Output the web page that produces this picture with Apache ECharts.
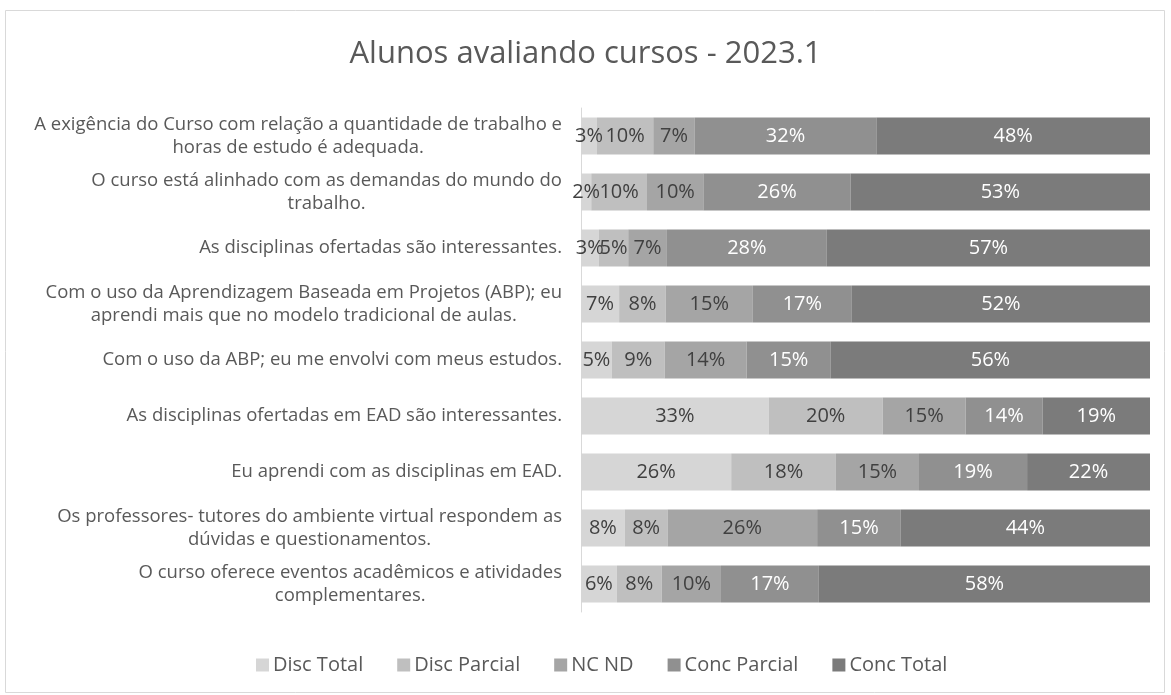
<!DOCTYPE html>
<html>
<head>
<meta charset="utf-8">
<script src="https://cdn.jsdelivr.net/npm/echarts@6/dist/echarts.min.js"></script>
<style>
  html, body { margin: 0; padding: 0; background: #fff; }
  #chart { width: 1171px; height: 695px; }
</style>
</head>
<body>
<div id="chart"></div>
<script>
// perguntas (de cima para baixo)
const categories = [
  "A exigência do Curso com relação a quantidade de trabalho e\nhoras de estudo é adequada.",
  "O curso está alinhado com as demandas do mundo do\ntrabalho.",
  "As disciplinas ofertadas são interessantes.",
  "Com o uso da Aprendizagem Baseada em Projetos (ABP); eu\naprendi mais que no modelo tradicional de aulas.",
  "Com o uso da ABP; eu me envolvi com meus estudos.",
  "As disciplinas ofertadas em EAD são interessantes.",
  "Eu aprendi com as disciplinas em EAD.",
  "Os professores- tutores do ambiente virtual respondem as\ndúvidas e questionamentos.",
  "O curso oferece eventos acadêmicos e atividades\ncomplementares."
];

const seriesNames = ["Disc Total", "Disc Parcial", "NC ND", "Conc Parcial", "Conc Total"];

// percentuais
const discTotal   = [2.8, 1.8, 3.1, 6.7, 5.4, 33.0, 26.4, 7.7, 6.3];
const discParcial = [9.9, 9.8, 5.2, 8.2, 9.3, 20.0, 18.4, 7.5, 7.9];
const ncNd        = [7.3, 9.9, 6.8, 15.3, 14.4, 14.6, 14.6, 26.3, 10.4];
const concParcial = [31.9, 25.9, 28.1, 17.4, 14.8, 13.5, 19.0, 14.7, 17.2];
const concTotal   = [48.1, 52.6, 56.8, 52.4, 56.1, 18.9, 21.6, 43.8, 58.2];

const colors = ["#d6d6d6", "#bfbfbf", "#a5a5a5", "#909090", "#7b7b7b"];
const labelColors = ["#404040", "#404040", "#404040", "#ffffff", "#ffffff"];
const FONT = "'Open Sans', 'Noto Sans', sans-serif";

const chart = echarts.init(document.getElementById("chart"));

const allValues = [discTotal, discParcial, ncNd, concParcial, concTotal];
const series = allValues.map(function (vals, i) {
  return {
    name: seriesNames[i],
    type: "bar",
    stack: "total",
    barCategoryGap: "34%",
    data: vals,
    itemStyle: { color: colors[i] },
    label: {
      show: true,
      position: "inside",
      color: labelColors[i],
      fontFamily: FONT,
      fontSize: 20,
      formatter: function (p) {
        return Math.round(p.value) + "%";
      }
    },
    emphasis: { disabled: true }
  };
});

const option = {
  animation: false,
  backgroundColor: "#ffffff",
  title: {
    text: "Alunos avaliando cursos - 2023.1",
    left: "center",
    top: 34,
    textStyle: {
      color: "#595959",
      fontFamily: FONT,
      fontSize: 31,
      fontWeight: "normal"
    }
  },
  graphic: [
    {
      type: "rect",
      shape: { x: 5.5, y: 10.5, width: 1159, height: 682 },
      style: { fill: null, stroke: "#d9d9d9", lineWidth: 1 },
      silent: true,
      z: -1
    }
  ],
  legend: {
    left: 251,
    top: 650,
    itemWidth: 13,
    itemHeight: 13,
    itemGap: 34,
    icon: "rect",
    textStyle: {
      color: "#595959",
      fontFamily: FONT,
      fontSize: 20,
      padding: [0, 0, 0, -1]
    },
    data: seriesNames
  },
  grid: {
    left: 581,
    right: 21,
    top: 108,
    bottom: 83,
    containLabel: false
  },
  xAxis: {
    type: "value",
    min: 0,
    max: 100,
    show: false
  },
  yAxis: {
    type: "category",
    inverse: true,
    data: categories,
    axisLine: { show: true, lineStyle: { color: "#d9d9d9", width: 1 } },
    axisTick: { show: false },
    axisLabel: {
      margin: 19,
      color: "#595959",
      fontFamily: FONT,
      fontSize: 18.5,
      lineHeight: 23,
      formatter: function (v) {
        return v.split("\n").map(function (l) { return "{c|" + l + "}"; }).join("\n");
      },
      rich: {
        c: { align: "center", color: "#595959", fontFamily: FONT, fontSize: 18.5, lineHeight: 23 }
      }
    }
  },
  series: series
};

chart.setOption(option);
</script>
</body>
</html>
